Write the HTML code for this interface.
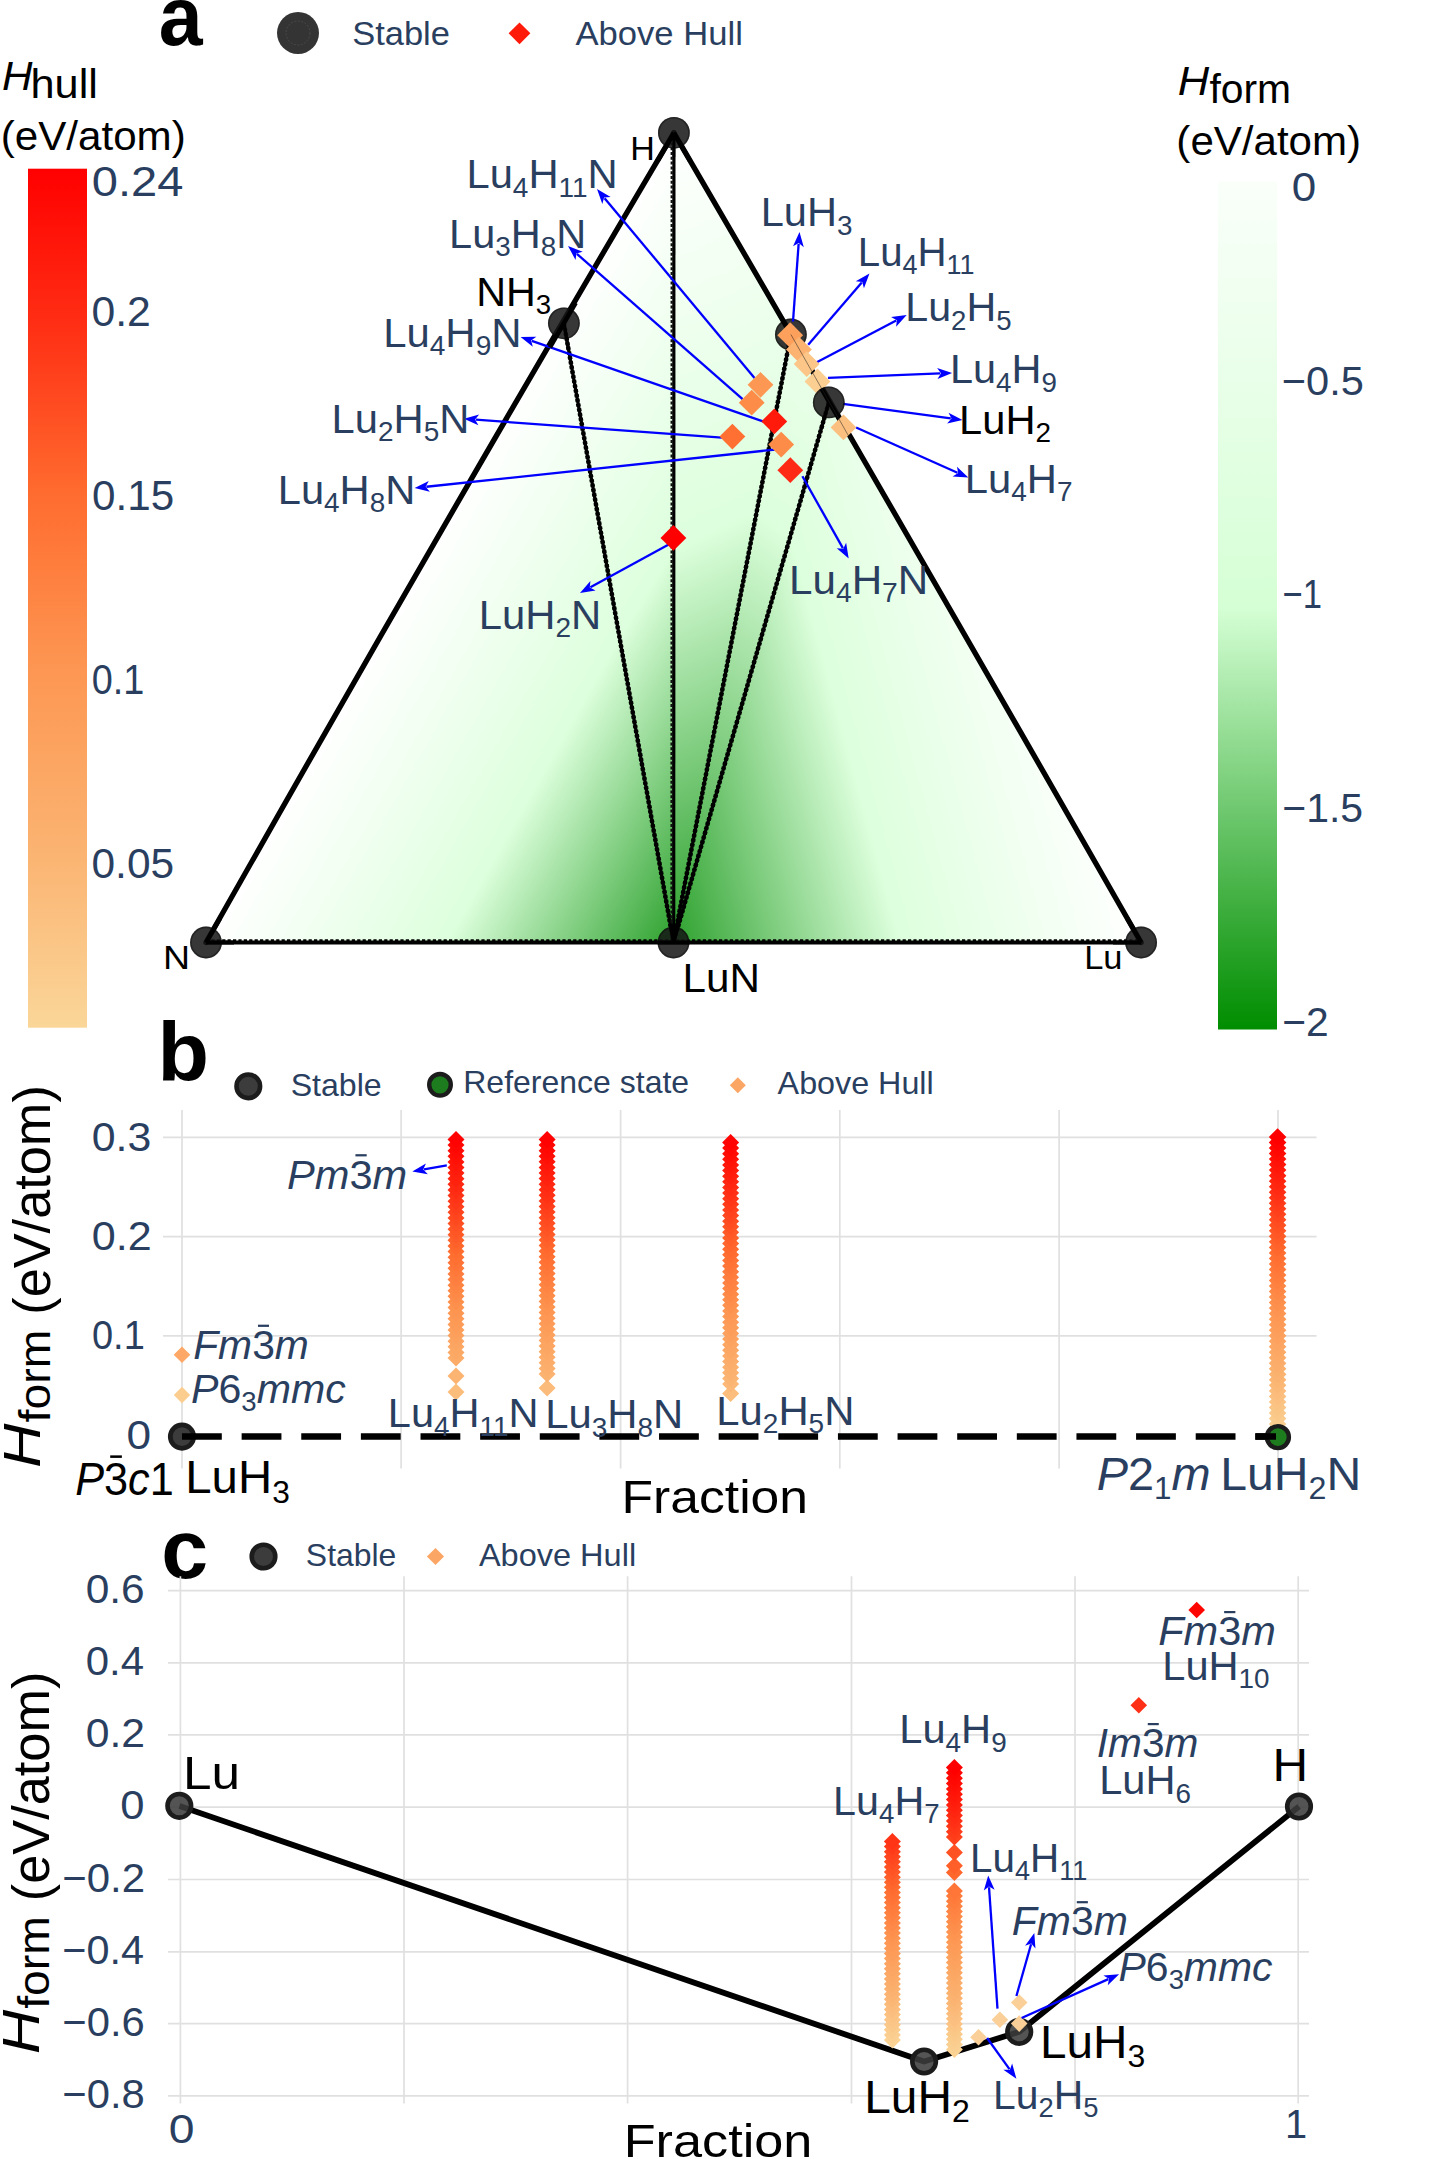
<!DOCTYPE html>
<html><head><meta charset="utf-8"><title>Figure</title>
<style>
html,body{margin:0;padding:0;background:#fff;overflow:hidden;}
svg{display:block;font-family:"Liberation Sans",sans-serif;}
</style></head><body>
<svg width="1451" height="2159" viewBox="0 0 1451 2159">
<defs>
<linearGradient id="gHull" x1="0" y1="0" x2="0" y2="1"><stop offset="0" stop-color="rgb(255,0,0)"/><stop offset="0.18" stop-color="rgb(255,46,20)"/><stop offset="0.38" stop-color="rgb(255,108,47)"/><stop offset="0.58" stop-color="rgb(253,150,82)"/><stop offset="0.8" stop-color="rgb(251,180,114)"/><stop offset="1" stop-color="rgb(250,214,153)"/></linearGradient>
<linearGradient id="gForm" x1="0" y1="0" x2="0" y2="1"><stop offset="0" stop-color="rgb(250,255,250)"/><stop offset="0.502" stop-color="rgb(213,255,213)"/><stop offset="1" stop-color="rgb(0,141,0)"/></linearGradient>
<linearGradient id="gf0" gradientUnits="userSpaceOnUse" x1="206" y1="942.5" x2="559.87" y2="1143.03"><stop offset="0" stop-color="rgb(255,255,255)"/><stop offset="0.515" stop-color="rgb(213,255,213)"/><stop offset="1" stop-color="rgb(0,141,0)"/></linearGradient>
<linearGradient id="gf1" gradientUnits="userSpaceOnUse" x1="558.48" y1="319.96" x2="919.95" y2="542.88"><stop offset="0" stop-color="rgb(255,255,255)"/><stop offset="0.515" stop-color="rgb(213,255,213)"/><stop offset="1" stop-color="rgb(0,141,0)"/></linearGradient>
<linearGradient id="gf2" gradientUnits="userSpaceOnUse" x1="673.9" y1="132.8" x2="979.29" y2="803.2"><stop offset="0" stop-color="rgb(255,255,255)"/><stop offset="0.515" stop-color="rgb(213,255,213)"/><stop offset="1" stop-color="rgb(0,141,0)"/></linearGradient>
<linearGradient id="gf3" gradientUnits="userSpaceOnUse" x1="942.26" y1="125.39" x2="461.75" y2="789.22"><stop offset="0" stop-color="rgb(255,255,255)"/><stop offset="0.515" stop-color="rgb(213,255,213)"/><stop offset="1" stop-color="rgb(0,141,0)"/></linearGradient>
<linearGradient id="gf4" gradientUnits="userSpaceOnUse" x1="983.45" y1="360.51" x2="547.82" y2="478.51"><stop offset="0" stop-color="rgb(255,255,255)"/><stop offset="0.515" stop-color="rgb(213,255,213)"/><stop offset="1" stop-color="rgb(0,141,0)"/></linearGradient>
</defs>
<rect width="1451" height="2159" fill="#ffffff"/>
<!-- panel a -->
<g transform="translate(158.63,44.5) scale(0.9390,1)" fill="#000"><text font-size="84"><tspan x="0" y="0" font-weight="bold">a</tspan></text></g>
<circle cx="298" cy="33" r="21" fill="#343434"/>
<circle cx="298" cy="33" r="12" fill="none" stroke="#555" stroke-width="0.6" stroke-dasharray="2 1.5"/>
<g transform="translate(352.15,44.6) scale(1.0617,1)" fill="#2a3f5f"><text font-size="32.5"><tspan x="0" y="0">Stable</tspan></text></g>
<path d="M519.5 22.4L530.4 33.3L519.5 44.2L508.6 33.3Z" fill="#ff1a0a" />
<g transform="translate(575.51,44.6) scale(1.0649,1)" fill="#2a3f5f"><text font-size="32.5"><tspan x="0" y="0">Above Hull</tspan></text></g>
<g transform="translate(2.04,89.6) scale(1.0160,1)" fill="#000"><text font-size="41.5"><tspan x="0" y="0" font-style="italic">H</tspan></text></g>
<g transform="translate(30.47,97.9) scale(1.0436,1)" fill="#000"><text font-size="41.5"><tspan x="0" y="0">hull</tspan></text></g>
<g transform="translate(0.66,150.2) scale(1.0164,1)" fill="#000"><text font-size="41.5"><tspan x="0" y="0">(eV/atom)</tspan></text></g>
<rect x="28" y="168.7" width="59" height="859" fill="url(#gHull)"/>
<g transform="translate(91.82,195.8) scale(1.0950,1)" fill="#2a3f5f"><text font-size="43"><tspan x="0" y="0">0.24</tspan></text></g>
<g transform="translate(91.49,326) scale(1.0093,1)" fill="#2a3f5f"><text font-size="42.3"><tspan x="0" y="0">0.2</tspan></text></g>
<g transform="translate(92.01,510) scale(0.9976,1)" fill="#2a3f5f"><text font-size="42.3"><tspan x="0" y="0">0.15</tspan></text></g>
<g transform="translate(91.69,693.8) scale(0.8948,1)" fill="#2a3f5f"><text font-size="42.3"><tspan x="0" y="0">0.1</tspan></text></g>
<g transform="translate(91.5,877.5) scale(1.0039,1)" fill="#2a3f5f"><text font-size="42.3"><tspan x="0" y="0">0.05</tspan></text></g>
<g transform="translate(1177.7,95.2) scale(1.0474,1)" fill="#000"><text font-size="41.5"><tspan x="0" y="0" font-style="italic">H</tspan></text></g>
<g transform="translate(1209.39,103.2) scale(0.9839,1)" fill="#000"><text font-size="41.5"><tspan x="0" y="0">form</tspan></text></g>
<g transform="translate(1176.37,155.3) scale(1.0141,1)" fill="#000"><text font-size="41.5"><tspan x="0" y="0">(eV/atom)</tspan></text></g>
<rect x="1218" y="181.4" width="59" height="848.1" fill="url(#gForm)"/>
<g transform="translate(1291.64,201) scale(1.0859,1)" fill="#2a3f5f"><text font-size="40.5"><tspan x="0" y="0">0</tspan></text></g>
<g transform="translate(1281.82,394.5) scale(1.0023,1)" fill="#2a3f5f"><text font-size="41.5"><tspan x="0" y="0">−0.5</tspan></text></g>
<g transform="translate(1282.57,608.4) scale(0.8344,1)" fill="#2a3f5f"><text font-size="41.5"><tspan x="0" y="0">−1</tspan></text></g>
<g transform="translate(1282.25,822.4) scale(0.9869,1)" fill="#2a3f5f"><text font-size="41.5"><tspan x="0" y="0">−1.5</tspan></text></g>
<g transform="translate(1282.26,1036.4) scale(0.9824,1)" fill="#2a3f5f"><text font-size="41.5"><tspan x="0" y="0">−2</tspan></text></g>
<path d="M206 942.5L563.9 323.3L673.5 942.5Z" fill="url(#gf0)" fill-opacity="0.82"/>
<path d="M563.9 323.3L673.9 132.8L673.5 942.5Z" fill="url(#gf1)" fill-opacity="0.82"/>
<path d="M673.9 132.8L790.9 334.5L673.5 942.5Z" fill="url(#gf2)" fill-opacity="0.82"/>
<path d="M790.9 334.5L828.8 402.4L673.5 942.5Z" fill="url(#gf3)" fill-opacity="0.82"/>
<path d="M828.8 402.4L1141.1 942.5L673.5 942.5Z" fill="url(#gf4)" fill-opacity="0.82"/>
<circle cx="790.9" cy="334.5" r="15.9" fill="#161616" fill-opacity="0.86"/>
<circle cx="790.9" cy="334.5" r="15.1" fill="none" stroke="#000" stroke-opacity="0.35" stroke-width="1.6"/>
<path d="M206 942.5Q436.1 535.4 673.9 132.8" stroke="#000" stroke-width="5.3" fill="none" stroke-linecap="round"/>
<path d="M673.9 132.8Q909.2 536.6 1141.1 942.5" stroke="#000" stroke-width="5.3" fill="none" stroke-linecap="round"/>
<path d="M206 942.5L1141.1 942.5" stroke="#000" stroke-width="4.2" stroke-linecap="round"/>
<path d="M206 940.1L1141.1 940.1" stroke="#000" stroke-width="1.6" stroke-dasharray="3.2 2.2"/>
<path d="M563.9 323.3L673.5 942.5" stroke="#000" stroke-width="3.3"/>
<path d="M563.9 323.3L673.5 942.5" stroke="#000" stroke-width="4.5" stroke-dasharray="3 1.8"/>
<path d="M790.9 334.5L673.5 942.5" stroke="#000" stroke-width="3.3"/>
<path d="M790.9 334.5L673.5 942.5" stroke="#000" stroke-width="4.5" stroke-dasharray="3 1.8"/>
<path d="M828.8 402.4L673.5 942.5" stroke="#000" stroke-width="3.3"/>
<path d="M828.8 402.4L673.5 942.5" stroke="#000" stroke-width="4.5" stroke-dasharray="3 1.8"/>
<path d="M673.9 132.8L673.7 942.5" stroke="#000" stroke-width="3.2"/>
<path d="M671.7 132.8L671.5 942.5" stroke="#111" stroke-width="2.2" stroke-dasharray="3 1.8"/>
<path d="M793 321.5L798.64 243.81" stroke="#0000ff" stroke-width="2.3" fill="none"/>
<path d="M799.5 232L803.81 247.15L798.7 243.07L793.04 246.37Z" fill="#0000ff"/>
<path d="M808.2 344.8L861.77 282.57" stroke="#0000ff" stroke-width="2.3" fill="none"/>
<path d="M869.5 273.6L863.94 288.34L862.26 282.01L855.75 281.29Z" fill="#0000ff"/>
<path d="M814.4 363.4L896.21 320.5" stroke="#0000ff" stroke-width="2.3" fill="none"/>
<path d="M906.7 315L896.1 326.66L896.87 320.15L891.08 317.09Z" fill="#0000ff"/>
<path d="M828 377.8L940.27 373.37" stroke="#0000ff" stroke-width="2.3" fill="none"/>
<path d="M952.1 372.9L937.52 378.88L941.01 373.34L937.1 368.09Z" fill="#0000ff"/>
<path d="M843 403.9L950.77 418.42" stroke="#0000ff" stroke-width="2.3" fill="none"/>
<path d="M962.5 420L947.11 423.38L951.5 418.52L948.55 412.67Z" fill="#0000ff"/>
<path d="M856.1 427.5L957.49 472.77" stroke="#0000ff" stroke-width="2.3" fill="none"/>
<path d="M968.3 477.6L952.58 476.5L958.16 473.07L956.99 466.63Z" fill="#0000ff"/>
<path d="M754.5 377.9L604.58 198.19" stroke="#0000ff" stroke-width="2.3" fill="none"/>
<path d="M597 189.1L610.63 197.01L604.11 197.62L602.33 203.92Z" fill="#0000ff"/>
<path d="M742.6 399.1L576.9 253.9" stroke="#0000ff" stroke-width="2.3" fill="none"/>
<path d="M568 246.1L582.69 251.79L576.35 253.42L575.57 259.92Z" fill="#0000ff"/>
<path d="M764.7 422L531.78 340.8" stroke="#0000ff" stroke-width="2.3" fill="none"/>
<path d="M520.6 336.9L536.35 336.67L531.08 340.55L532.8 346.87Z" fill="#0000ff"/>
<path d="M721.9 437.7L475.81 419.67" stroke="#0000ff" stroke-width="2.3" fill="none"/>
<path d="M464 418.8L479.16 414.5L475.07 419.61L478.37 425.27Z" fill="#0000ff"/>
<path d="M775.7 449.5L426.37 486.74" stroke="#0000ff" stroke-width="2.3" fill="none"/>
<path d="M414.6 488L428.74 481.06L425.64 486.82L429.89 491.8Z" fill="#0000ff"/>
<path d="M669.6 544.1L590.4 587.24" stroke="#0000ff" stroke-width="2.3" fill="none"/>
<path d="M580 592.9L590.41 581.08L589.75 587.59L595.58 590.56Z" fill="#0000ff"/>
<path d="M802.4 476.3L842.88 548.09" stroke="#0000ff" stroke-width="2.3" fill="none"/>
<path d="M848.7 558.4L836.73 548.16L843.25 548.73L846.13 542.86Z" fill="#0000ff"/>
<path d="M790.2 322.3L803.1 335.2L790.2 348.1L777.3 335.2Z" fill="rgb(252,160,92)" />
<path d="M798.9 336.7L811.8 349.6L798.9 362.5L786 349.6Z" fill="rgb(252,178,112)" />
<path d="M806.7 351.2L819.6 364.1L806.7 377L793.8 364.1Z" fill="rgb(251,198,135)" />
<path d="M817.5 368.6L830.4 381.5L817.5 394.4L804.6 381.5Z" fill="rgb(251,206,146)" />
<circle cx="206" cy="942.5" r="15.9" fill="#161616" fill-opacity="0.86"/>
<circle cx="206" cy="942.5" r="15.1" fill="none" stroke="#000" stroke-opacity="0.35" stroke-width="1.6"/>
<circle cx="1141.1" cy="942.5" r="15.9" fill="#161616" fill-opacity="0.86"/>
<circle cx="1141.1" cy="942.5" r="15.1" fill="none" stroke="#000" stroke-opacity="0.35" stroke-width="1.6"/>
<circle cx="673.9" cy="132.8" r="15.9" fill="#161616" fill-opacity="0.86"/>
<circle cx="673.9" cy="132.8" r="15.1" fill="none" stroke="#000" stroke-opacity="0.35" stroke-width="1.6"/>
<circle cx="673.5" cy="942.5" r="15.9" fill="#161616" fill-opacity="0.86"/>
<circle cx="673.5" cy="942.5" r="15.1" fill="none" stroke="#000" stroke-opacity="0.35" stroke-width="1.6"/>
<circle cx="563.9" cy="323.3" r="15.9" fill="#161616" fill-opacity="0.86"/>
<circle cx="563.9" cy="323.3" r="15.1" fill="none" stroke="#000" stroke-opacity="0.35" stroke-width="1.6"/>
<circle cx="828.8" cy="402.4" r="15.9" fill="#161616" fill-opacity="0.86"/>
<circle cx="828.8" cy="402.4" r="15.1" fill="none" stroke="#000" stroke-opacity="0.35" stroke-width="1.6"/>
<path d="M821.54 388.67L842.09 424.29" stroke="#000" stroke-width="4.6"/>
<path d="M828.8 402.4L821.03 429.4" stroke="#000" stroke-width="3.3"/>
<path d="M549.91 347.37L575.64 302.84" stroke="#000" stroke-width="4.6"/>
<path d="M563.9 323.3L568.28 348.07" stroke="#000" stroke-width="3.3"/>
<path d="M673.9 132.8L657.52 161.14" stroke="#000" stroke-width="4.6"/>
<path d="M673.9 132.8L690.25 161.14" stroke="#000" stroke-width="4.6"/>
<path d="M673.9 132.8L673.89 157.09" stroke="#000" stroke-width="2.7"/>
<path d="M206 942.5L220.04 918.21" stroke="#000" stroke-width="4.6"/>
<path d="M206 942.5L234.05 942.5" stroke="#000" stroke-width="4.0"/>
<path d="M1141.1 942.5L1127.08 918.21" stroke="#000" stroke-width="4.6"/>
<path d="M1141.1 942.5L1113.05 942.5" stroke="#000" stroke-width="4.0"/>
<path d="M673.5 942.5L670.21 923.92" stroke="#000" stroke-width="3.3"/>
<path d="M673.5 942.5L677.02 924.26" stroke="#000" stroke-width="3.3"/>
<path d="M673.5 942.5L678.16 926.3" stroke="#000" stroke-width="3.3"/>
<path d="M673.5 942.5L673.51 924.69" stroke="#000" stroke-width="2.7"/>
<path d="M657.65 942.5L689.45 942.5" stroke="#000" stroke-width="4.2"/>
<path d="M843.5 414.5L856.4 427.4L843.5 440.3L830.6 427.4Z" fill="rgb(251,192,128)" />
<path d="M790.9 334.5L852 442" stroke="#222" stroke-width="0.7" stroke-opacity="0.75"/>
<path d="M760.5 371.9L773.4 384.8L760.5 397.7L747.6 384.8Z" fill="rgb(252,152,84)" />
<path d="M751.7 389.8L764.6 402.7L751.7 415.6L738.8 402.7Z" fill="rgb(252,140,72)" />
<path d="M774.3 408.5L787.2 421.4L774.3 434.3L761.4 421.4Z" fill="rgb(255,26,12)" />
<path d="M732.4 423.7L745.3 436.6L732.4 449.5L719.5 436.6Z" fill="rgb(255,112,50)" />
<path d="M781.2 431.7L794.1 444.6L781.2 457.5L768.3 444.6Z" fill="rgb(252,140,72)" />
<path d="M790.3 457.3L803.2 470.2L790.3 483.1L777.4 470.2Z" fill="rgb(255,42,22)" />
<path d="M673.4 525L686.3 537.9L673.4 550.8L660.5 537.9Z" fill="rgb(255,0,0)" />
<g transform="translate(466.46,188.4) scale(1.0056,1)" fill="#2a3f5f"><text font-size="41.5"><tspan x="0" y="0">Lu</tspan><tspan x="46.16" y="8.3" font-size="27.81">4</tspan><tspan x="61.62" y="0">H</tspan><tspan x="91.6" y="8.3" font-size="27.81">11</tspan><tspan x="120.46" y="0">N</tspan></text></g>
<g transform="translate(449.07,247.6) scale(1.0008,1)" fill="#2a3f5f"><text font-size="41.5"><tspan x="0" y="0">Lu</tspan><tspan x="46.16" y="8.3" font-size="27.81">3</tspan><tspan x="61.62" y="0">H</tspan><tspan x="91.6" y="8.3" font-size="27.81">8</tspan><tspan x="107.06" y="0">N</tspan></text></g>
<g transform="translate(476.19,305.5) scale(1.0321,1)" fill="#000"><text font-size="40"><tspan x="0" y="0">NH</tspan><tspan x="57.77" y="8" font-size="26.8">3</tspan></text></g>
<g transform="translate(383.14,346.9) scale(1.0100,1)" fill="#2a3f5f"><text font-size="41.5"><tspan x="0" y="0">Lu</tspan><tspan x="46.16" y="8.3" font-size="27.81">4</tspan><tspan x="61.62" y="0">H</tspan><tspan x="91.6" y="8.3" font-size="27.81">9</tspan><tspan x="107.06" y="0">N</tspan></text></g>
<g transform="translate(331.56,433) scale(1.0062,1)" fill="#2a3f5f"><text font-size="41.5"><tspan x="0" y="0">Lu</tspan><tspan x="46.16" y="8.3" font-size="27.81">2</tspan><tspan x="61.62" y="0">H</tspan><tspan x="91.6" y="8.3" font-size="27.81">5</tspan><tspan x="107.06" y="0">N</tspan></text></g>
<g transform="translate(277.76,503.7) scale(1.0039,1)" fill="#2a3f5f"><text font-size="41.5"><tspan x="0" y="0">Lu</tspan><tspan x="46.16" y="8.3" font-size="27.81">4</tspan><tspan x="61.62" y="0">H</tspan><tspan x="91.6" y="8.3" font-size="27.81">8</tspan><tspan x="107.06" y="0">N</tspan></text></g>
<g transform="translate(478.75,629) scale(1.0076,1)" fill="#2a3f5f"><text font-size="41.5"><tspan x="0" y="0">LuH</tspan><tspan x="76.13" y="8.3" font-size="27.81">2</tspan><tspan x="91.6" y="0">N</tspan></text></g>
<g transform="translate(789.02,594) scale(1.0162,1)" fill="#2a3f5f"><text font-size="41.5"><tspan x="0" y="0">Lu</tspan><tspan x="46.16" y="8.3" font-size="27.81">4</tspan><tspan x="61.62" y="0">H</tspan><tspan x="91.6" y="8.3" font-size="27.81">7</tspan><tspan x="107.06" y="0">N</tspan></text></g>
<g transform="translate(760.67,226.3) scale(1.0016,1)" fill="#2a3f5f"><text font-size="41.5"><tspan x="0" y="0">LuH</tspan><tspan x="76.13" y="8.3" font-size="27.81">3</tspan></text></g>
<g transform="translate(857.78,265.5) scale(0.9698,1)" fill="#2a3f5f"><text font-size="41.5"><tspan x="0" y="0">Lu</tspan><tspan x="46.16" y="8.3" font-size="27.81">4</tspan><tspan x="61.62" y="0">H</tspan><tspan x="91.6" y="8.3" font-size="27.81">11</tspan></text></g>
<g transform="translate(905.3,321.3) scale(0.9923,1)" fill="#2a3f5f"><text font-size="41.5"><tspan x="0" y="0">Lu</tspan><tspan x="46.16" y="8.3" font-size="27.81">2</tspan><tspan x="61.62" y="0">H</tspan><tspan x="91.6" y="8.3" font-size="27.81">5</tspan></text></g>
<g transform="translate(949.98,383.3) scale(0.9985,1)" fill="#2a3f5f"><text font-size="41.5"><tspan x="0" y="0">Lu</tspan><tspan x="46.16" y="8.3" font-size="27.81">4</tspan><tspan x="61.62" y="0">H</tspan><tspan x="91.6" y="8.3" font-size="27.81">9</tspan></text></g>
<g transform="translate(959.06,433.7) scale(1.0040,1)" fill="#000"><text font-size="41.5"><tspan x="0" y="0">LuH</tspan><tspan x="76.13" y="8.3" font-size="27.81">2</tspan></text></g>
<g transform="translate(964.85,492.5) scale(1.0067,1)" fill="#2a3f5f"><text font-size="41.5"><tspan x="0" y="0">Lu</tspan><tspan x="46.16" y="8.3" font-size="27.81">4</tspan><tspan x="61.62" y="0">H</tspan><tspan x="91.6" y="8.3" font-size="27.81">7</tspan></text></g>
<g transform="translate(630.19,159.8) scale(1.0173,1)" fill="#000"><text font-size="33.5"><tspan x="0" y="0">H</tspan></text></g>
<g transform="translate(162.91,969.2) scale(1.1026,1)" fill="#000"><text font-size="34"><tspan x="0" y="0">N</tspan></text></g>
<g transform="translate(1084.15,968.7) scale(1.0613,1)" fill="#000"><text font-size="32.5"><tspan x="0" y="0">Lu</tspan></text></g>
<g transform="translate(682.52,992.4) scale(1.0554,1)" fill="#000"><text font-size="40"><tspan x="0" y="0">LuN</tspan></text></g>
<!-- panel b -->
<g transform="translate(157.52,1080.7) scale(1.0042,1)" fill="#000"><text font-size="84"><tspan x="0" y="0" font-weight="bold">b</tspan></text></g>
<circle cx="248.3" cy="1086.3" r="11.8" fill="#3c3c3c" stroke="#1c1c1c" stroke-width="4.6"/>
<g transform="translate(290.65,1095.7) scale(1.0537,1)" fill="#2a3f5f"><text font-size="30.5"><tspan x="0" y="0">Stable</tspan></text></g>
<circle cx="440" cy="1084.8" r="10.8" fill="#1d7c1d" stroke="#1c1c1c" stroke-width="4.4"/>
<g transform="translate(463.26,1093.2) scale(1.0495,1)" fill="#2a3f5f"><text font-size="30.5"><tspan x="0" y="0">Reference state</tspan></text></g>
<path d="M737.8 1077.2L745.8 1085.2L737.8 1093.2L729.8 1085.2Z" fill="rgb(252,166,102)" />
<g transform="translate(777.62,1094) scale(1.0584,1)" fill="#2a3f5f"><text font-size="30.5"><tspan x="0" y="0">Above Hull</tspan></text></g>
<path d="M182 1110V1468.5" stroke="#e0e0e0" stroke-width="1.7"/>
<path d="M401.1 1110V1468.5" stroke="#e0e0e0" stroke-width="1.7"/>
<path d="M620.6 1110V1468.5" stroke="#e0e0e0" stroke-width="1.7"/>
<path d="M839.8 1110V1468.5" stroke="#e0e0e0" stroke-width="1.7"/>
<path d="M1059.1 1110V1468.5" stroke="#e0e0e0" stroke-width="1.7"/>
<path d="M1278 1110V1468.5" stroke="#e0e0e0" stroke-width="1.7"/>
<path d="M163 1137.3H1316.5" stroke="#e0e0e0" stroke-width="1.7"/>
<path d="M163 1236.7H1316.5" stroke="#e0e0e0" stroke-width="1.7"/>
<path d="M163 1335.8H1316.5" stroke="#e0e0e0" stroke-width="1.7"/>
<g transform="translate(91.79,1150.7) scale(1.0575,1)" fill="#2a3f5f"><text font-size="40.5"><tspan x="0" y="0">0.3</tspan></text></g>
<g transform="translate(91.78,1250.1) scale(1.0636,1)" fill="#2a3f5f"><text font-size="40.5"><tspan x="0" y="0">0.2</tspan></text></g>
<g transform="translate(91.98,1349.2) scale(0.9384,1)" fill="#2a3f5f"><text font-size="40.5"><tspan x="0" y="0">0.1</tspan></text></g>
<g transform="translate(126.43,1448.6) scale(1.0911,1)" fill="#2a3f5f"><text font-size="40.5"><tspan x="0" y="0">0</tspan></text></g>
<g transform="translate(50,1466.1) rotate(-90)">
<g transform="translate(-1.85,-10.3) scale(1.1830,1)" fill="#000"><text font-size="52"><tspan x="0" y="0" font-style="italic">H</tspan></text></g>
<g transform="translate(43.71,0.3) scale(1.0523,1)" fill="#000"><text font-size="44"><tspan x="0" y="0">form</tspan></text></g>
<g transform="translate(151.33,0) scale(1.0058,1)" fill="#000"><text font-size="52"><tspan x="0" y="0">(eV/atom)</tspan></text></g>
</g>
<path d="M456 1383.5L464.5 1392L456 1400.5L447.5 1392Z" fill="rgb(251,189,124)" />
<path d="M456 1367.5L464.5 1376L456 1384.5L447.5 1376Z" fill="rgb(251,180,114)" />
<path d="M456 1349.5L464.5 1358L456 1366.5L447.5 1358Z" fill="rgb(252,172,105)" />
<path d="M456 1343.9L464.5 1352.4L456 1360.9L447.5 1352.4Z" fill="rgb(252,169,102)" />
<path d="M456 1338.29L464.5 1346.79L456 1355.29L447.5 1346.79Z" fill="rgb(252,167,100)" />
<path d="M456 1332.69L464.5 1341.19L456 1349.69L447.5 1341.19Z" fill="rgb(252,164,97)" />
<path d="M456 1327.09L464.5 1335.59L456 1344.09L447.5 1335.59Z" fill="rgb(252,161,94)" />
<path d="M456 1321.49L464.5 1329.99L456 1338.49L447.5 1329.99Z" fill="rgb(252,159,91)" />
<path d="M456 1315.88L464.5 1324.38L456 1332.88L447.5 1324.38Z" fill="rgb(253,156,89)" />
<path d="M456 1310.28L464.5 1318.78L456 1327.28L447.5 1318.78Z" fill="rgb(253,154,86)" />
<path d="M456 1304.68L464.5 1313.18L456 1321.68L447.5 1313.18Z" fill="rgb(253,151,83)" />
<path d="M456 1299.08L464.5 1307.58L456 1316.08L447.5 1307.58Z" fill="rgb(253,148,80)" />
<path d="M456 1293.47L464.5 1301.97L456 1310.47L447.5 1301.97Z" fill="rgb(253,144,77)" />
<path d="M456 1287.87L464.5 1296.37L456 1304.87L447.5 1296.37Z" fill="rgb(253,140,74)" />
<path d="M456 1282.27L464.5 1290.77L456 1299.27L447.5 1290.77Z" fill="rgb(254,136,70)" />
<path d="M456 1276.67L464.5 1285.17L456 1293.67L447.5 1285.17Z" fill="rgb(254,132,67)" />
<path d="M456 1271.06L464.5 1279.56L456 1288.06L447.5 1279.56Z" fill="rgb(254,128,64)" />
<path d="M456 1265.46L464.5 1273.96L456 1282.46L447.5 1273.96Z" fill="rgb(254,124,61)" />
<path d="M456 1259.86L464.5 1268.36L456 1276.86L447.5 1268.36Z" fill="rgb(254,120,57)" />
<path d="M456 1254.26L464.5 1262.76L456 1271.26L447.5 1262.76Z" fill="rgb(255,116,54)" />
<path d="M456 1248.65L464.5 1257.15L456 1265.65L447.5 1257.15Z" fill="rgb(255,112,51)" />
<path d="M456 1243.05L464.5 1251.55L456 1260.05L447.5 1251.55Z" fill="rgb(255,109,47)" />
<path d="M456 1237.45L464.5 1245.95L456 1254.45L447.5 1245.95Z" fill="rgb(255,103,45)" />
<path d="M456 1231.85L464.5 1240.35L456 1248.85L447.5 1240.35Z" fill="rgb(255,97,42)" />
<path d="M456 1226.24L464.5 1234.74L456 1243.24L447.5 1234.74Z" fill="rgb(255,91,40)" />
<path d="M456 1220.64L464.5 1229.14L456 1237.64L447.5 1229.14Z" fill="rgb(255,86,37)" />
<path d="M456 1215.04L464.5 1223.54L456 1232.04L447.5 1223.54Z" fill="rgb(255,80,35)" />
<path d="M456 1209.44L464.5 1217.94L456 1226.44L447.5 1217.94Z" fill="rgb(255,74,32)" />
<path d="M456 1203.83L464.5 1212.33L456 1220.83L447.5 1212.33Z" fill="rgb(255,68,30)" />
<path d="M456 1198.23L464.5 1206.73L456 1215.23L447.5 1206.73Z" fill="rgb(255,62,27)" />
<path d="M456 1192.63L464.5 1201.13L456 1209.63L447.5 1201.13Z" fill="rgb(255,56,25)" />
<path d="M456 1187.03L464.5 1195.53L456 1204.03L447.5 1195.53Z" fill="rgb(255,51,22)" />
<path d="M456 1181.42L464.5 1189.92L456 1198.42L447.5 1189.92Z" fill="rgb(255,45,20)" />
<path d="M456 1175.82L464.5 1184.32L456 1192.82L447.5 1184.32Z" fill="rgb(255,40,17)" />
<path d="M456 1170.22L464.5 1178.72L456 1187.22L447.5 1178.72Z" fill="rgb(255,35,15)" />
<path d="M456 1164.62L464.5 1173.12L456 1181.62L447.5 1173.12Z" fill="rgb(255,31,13)" />
<path d="M456 1159.01L464.5 1167.51L456 1176.01L447.5 1167.51Z" fill="rgb(255,26,11)" />
<path d="M456 1153.41L464.5 1161.91L456 1170.41L447.5 1161.91Z" fill="rgb(255,21,9)" />
<path d="M456 1147.81L464.5 1156.31L456 1164.81L447.5 1156.31Z" fill="rgb(255,16,7)" />
<path d="M456 1142.21L464.5 1150.71L456 1159.21L447.5 1150.71Z" fill="rgb(255,11,5)" />
<path d="M456 1136.6L464.5 1145.1L456 1153.6L447.5 1145.1Z" fill="rgb(255,7,3)" />
<path d="M456 1131L464.5 1139.5L456 1148L447.5 1139.5Z" fill="rgb(255,2,1)" />
<path d="M547.1 1379.5L555.6 1388L547.1 1396.5L538.6 1388Z" fill="rgb(251,187,122)" />
<path d="M547.1 1365.5L555.6 1374L547.1 1382.5L538.6 1374Z" fill="rgb(251,179,113)" />
<path d="M547.1 1359.92L555.6 1368.42L547.1 1376.92L538.6 1368.42Z" fill="rgb(251,176,110)" />
<path d="M547.1 1354.33L555.6 1362.83L547.1 1371.33L538.6 1362.83Z" fill="rgb(251,174,107)" />
<path d="M547.1 1348.75L555.6 1357.25L547.1 1365.75L538.6 1357.25Z" fill="rgb(252,171,105)" />
<path d="M547.1 1343.17L555.6 1351.67L547.1 1360.17L538.6 1351.67Z" fill="rgb(252,169,102)" />
<path d="M547.1 1337.58L555.6 1346.08L547.1 1354.58L538.6 1346.08Z" fill="rgb(252,166,99)" />
<path d="M547.1 1332L555.6 1340.5L547.1 1349L538.6 1340.5Z" fill="rgb(252,164,97)" />
<path d="M547.1 1326.42L555.6 1334.92L547.1 1343.42L538.6 1334.92Z" fill="rgb(252,161,94)" />
<path d="M547.1 1320.83L555.6 1329.33L547.1 1337.83L538.6 1329.33Z" fill="rgb(252,159,91)" />
<path d="M547.1 1315.25L555.6 1323.75L547.1 1332.25L538.6 1323.75Z" fill="rgb(253,156,88)" />
<path d="M547.1 1309.67L555.6 1318.17L547.1 1326.67L538.6 1318.17Z" fill="rgb(253,153,86)" />
<path d="M547.1 1304.08L555.6 1312.58L547.1 1321.08L538.6 1312.58Z" fill="rgb(253,151,83)" />
<path d="M547.1 1298.5L555.6 1307L547.1 1315.5L538.6 1307Z" fill="rgb(253,148,80)" />
<path d="M547.1 1292.92L555.6 1301.42L547.1 1309.92L538.6 1301.42Z" fill="rgb(253,144,77)" />
<path d="M547.1 1287.33L555.6 1295.83L547.1 1304.33L538.6 1295.83Z" fill="rgb(253,140,73)" />
<path d="M547.1 1281.75L555.6 1290.25L547.1 1298.75L538.6 1290.25Z" fill="rgb(254,136,70)" />
<path d="M547.1 1276.17L555.6 1284.67L547.1 1293.17L538.6 1284.67Z" fill="rgb(254,132,67)" />
<path d="M547.1 1270.58L555.6 1279.08L547.1 1287.58L538.6 1279.08Z" fill="rgb(254,128,64)" />
<path d="M547.1 1265L555.6 1273.5L547.1 1282L538.6 1273.5Z" fill="rgb(254,124,60)" />
<path d="M547.1 1259.42L555.6 1267.92L547.1 1276.42L538.6 1267.92Z" fill="rgb(254,120,57)" />
<path d="M547.1 1253.83L555.6 1262.33L547.1 1270.83L538.6 1262.33Z" fill="rgb(255,116,54)" />
<path d="M547.1 1248.25L555.6 1256.75L547.1 1265.25L538.6 1256.75Z" fill="rgb(255,112,50)" />
<path d="M547.1 1242.67L555.6 1251.17L547.1 1259.67L538.6 1251.17Z" fill="rgb(255,108,47)" />
<path d="M547.1 1237.08L555.6 1245.58L547.1 1254.08L538.6 1245.58Z" fill="rgb(255,103,45)" />
<path d="M547.1 1231.5L555.6 1240L547.1 1248.5L538.6 1240Z" fill="rgb(255,97,42)" />
<path d="M547.1 1225.92L555.6 1234.42L547.1 1242.92L538.6 1234.42Z" fill="rgb(255,91,40)" />
<path d="M547.1 1220.33L555.6 1228.83L547.1 1237.33L538.6 1228.83Z" fill="rgb(255,85,37)" />
<path d="M547.1 1214.75L555.6 1223.25L547.1 1231.75L538.6 1223.25Z" fill="rgb(255,79,35)" />
<path d="M547.1 1209.17L555.6 1217.67L547.1 1226.17L538.6 1217.67Z" fill="rgb(255,74,32)" />
<path d="M547.1 1203.58L555.6 1212.08L547.1 1220.58L538.6 1212.08Z" fill="rgb(255,68,29)" />
<path d="M547.1 1198L555.6 1206.5L547.1 1215L538.6 1206.5Z" fill="rgb(255,62,27)" />
<path d="M547.1 1192.42L555.6 1200.92L547.1 1209.42L538.6 1200.92Z" fill="rgb(255,56,24)" />
<path d="M547.1 1186.83L555.6 1195.33L547.1 1203.83L538.6 1195.33Z" fill="rgb(255,50,22)" />
<path d="M547.1 1181.25L555.6 1189.75L547.1 1198.25L538.6 1189.75Z" fill="rgb(255,45,20)" />
<path d="M547.1 1175.67L555.6 1184.17L547.1 1192.67L538.6 1184.17Z" fill="rgb(255,40,17)" />
<path d="M547.1 1170.08L555.6 1178.58L547.1 1187.08L538.6 1178.58Z" fill="rgb(255,35,15)" />
<path d="M547.1 1164.5L555.6 1173L547.1 1181.5L538.6 1173Z" fill="rgb(255,31,13)" />
<path d="M547.1 1158.92L555.6 1167.42L547.1 1175.92L538.6 1167.42Z" fill="rgb(255,26,11)" />
<path d="M547.1 1153.33L555.6 1161.83L547.1 1170.33L538.6 1161.83Z" fill="rgb(255,21,9)" />
<path d="M547.1 1147.75L555.6 1156.25L547.1 1164.75L538.6 1156.25Z" fill="rgb(255,16,7)" />
<path d="M547.1 1142.17L555.6 1150.67L547.1 1159.17L538.6 1150.67Z" fill="rgb(255,11,5)" />
<path d="M547.1 1136.58L555.6 1145.08L547.1 1153.58L538.6 1145.08Z" fill="rgb(255,7,3)" />
<path d="M547.1 1131L555.6 1139.5L547.1 1148L538.6 1139.5Z" fill="rgb(255,2,1)" />
<path d="M730.6 1385L739.1 1393.5L730.6 1402L722.1 1393.5Z" fill="rgb(251,190,125)" />
<path d="M730.6 1375.5L739.1 1384L730.6 1392.5L722.1 1384Z" fill="rgb(251,184,119)" />
<path d="M730.6 1369.88L739.1 1378.38L730.6 1386.88L722.1 1378.38Z" fill="rgb(251,181,115)" />
<path d="M730.6 1364.27L739.1 1372.77L730.6 1381.27L722.1 1372.77Z" fill="rgb(251,178,112)" />
<path d="M730.6 1358.65L739.1 1367.15L730.6 1375.65L722.1 1367.15Z" fill="rgb(251,176,110)" />
<path d="M730.6 1353.03L739.1 1361.53L730.6 1370.03L722.1 1361.53Z" fill="rgb(251,173,107)" />
<path d="M730.6 1347.42L739.1 1355.92L730.6 1364.42L722.1 1355.92Z" fill="rgb(252,171,104)" />
<path d="M730.6 1341.8L739.1 1350.3L730.6 1358.8L722.1 1350.3Z" fill="rgb(252,168,101)" />
<path d="M730.6 1336.19L739.1 1344.69L730.6 1353.19L722.1 1344.69Z" fill="rgb(252,166,99)" />
<path d="M730.6 1330.57L739.1 1339.07L730.6 1347.57L722.1 1339.07Z" fill="rgb(252,163,96)" />
<path d="M730.6 1324.95L739.1 1333.45L730.6 1341.95L722.1 1333.45Z" fill="rgb(252,160,93)" />
<path d="M730.6 1319.34L739.1 1327.84L730.6 1336.34L722.1 1327.84Z" fill="rgb(252,158,90)" />
<path d="M730.6 1313.72L739.1 1322.22L730.6 1330.72L722.1 1322.22Z" fill="rgb(253,155,88)" />
<path d="M730.6 1308.1L739.1 1316.6L730.6 1325.1L722.1 1316.6Z" fill="rgb(253,153,85)" />
<path d="M730.6 1302.49L739.1 1310.99L730.6 1319.49L722.1 1310.99Z" fill="rgb(253,150,82)" />
<path d="M730.6 1296.87L739.1 1305.37L730.6 1313.87L722.1 1305.37Z" fill="rgb(253,146,79)" />
<path d="M730.6 1291.26L739.1 1299.76L730.6 1308.26L722.1 1299.76Z" fill="rgb(253,142,76)" />
<path d="M730.6 1285.64L739.1 1294.14L730.6 1302.64L722.1 1294.14Z" fill="rgb(254,138,72)" />
<path d="M730.6 1280.02L739.1 1288.52L730.6 1297.02L722.1 1288.52Z" fill="rgb(254,135,69)" />
<path d="M730.6 1274.41L739.1 1282.91L730.6 1291.41L722.1 1282.91Z" fill="rgb(254,131,66)" />
<path d="M730.6 1268.79L739.1 1277.29L730.6 1285.79L722.1 1277.29Z" fill="rgb(254,127,63)" />
<path d="M730.6 1263.17L739.1 1271.67L730.6 1280.17L722.1 1271.67Z" fill="rgb(254,123,59)" />
<path d="M730.6 1257.56L739.1 1266.06L730.6 1274.56L722.1 1266.06Z" fill="rgb(254,119,56)" />
<path d="M730.6 1251.94L739.1 1260.44L730.6 1268.94L722.1 1260.44Z" fill="rgb(255,115,53)" />
<path d="M730.6 1246.33L739.1 1254.83L730.6 1263.33L722.1 1254.83Z" fill="rgb(255,111,49)" />
<path d="M730.6 1240.71L739.1 1249.21L730.6 1257.71L722.1 1249.21Z" fill="rgb(255,106,46)" />
<path d="M730.6 1235.09L739.1 1243.59L730.6 1252.09L722.1 1243.59Z" fill="rgb(255,101,44)" />
<path d="M730.6 1229.48L739.1 1237.98L730.6 1246.48L722.1 1237.98Z" fill="rgb(255,95,41)" />
<path d="M730.6 1223.86L739.1 1232.36L730.6 1240.86L722.1 1232.36Z" fill="rgb(255,89,39)" />
<path d="M730.6 1218.24L739.1 1226.74L730.6 1235.24L722.1 1226.74Z" fill="rgb(255,83,36)" />
<path d="M730.6 1212.63L739.1 1221.13L730.6 1229.63L722.1 1221.13Z" fill="rgb(255,77,34)" />
<path d="M730.6 1207.01L739.1 1215.51L730.6 1224.01L722.1 1215.51Z" fill="rgb(255,71,31)" />
<path d="M730.6 1201.4L739.1 1209.9L730.6 1218.4L722.1 1209.9Z" fill="rgb(255,66,29)" />
<path d="M730.6 1195.78L739.1 1204.28L730.6 1212.78L722.1 1204.28Z" fill="rgb(255,60,26)" />
<path d="M730.6 1190.16L739.1 1198.66L730.6 1207.16L722.1 1198.66Z" fill="rgb(255,54,23)" />
<path d="M730.6 1184.55L739.1 1193.05L730.6 1201.55L722.1 1193.05Z" fill="rgb(255,48,21)" />
<path d="M730.6 1178.93L739.1 1187.43L730.6 1195.93L722.1 1187.43Z" fill="rgb(255,43,19)" />
<path d="M730.6 1173.31L739.1 1181.81L730.6 1190.31L722.1 1181.81Z" fill="rgb(255,38,17)" />
<path d="M730.6 1167.7L739.1 1176.2L730.6 1184.7L722.1 1176.2Z" fill="rgb(255,33,14)" />
<path d="M730.6 1162.08L739.1 1170.58L730.6 1179.08L722.1 1170.58Z" fill="rgb(255,28,12)" />
<path d="M730.6 1156.47L739.1 1164.97L730.6 1173.47L722.1 1164.97Z" fill="rgb(255,24,10)" />
<path d="M730.6 1150.85L739.1 1159.35L730.6 1167.85L722.1 1159.35Z" fill="rgb(255,19,8)" />
<path d="M730.6 1145.23L739.1 1153.73L730.6 1162.23L722.1 1153.73Z" fill="rgb(255,14,6)" />
<path d="M730.6 1139.62L739.1 1148.12L730.6 1156.62L722.1 1148.12Z" fill="rgb(255,9,4)" />
<path d="M730.6 1134L739.1 1142.5L730.6 1151L722.1 1142.5Z" fill="rgb(255,4,2)" />
<path d="M1277.6 1415.2L1286.4 1424L1277.6 1432.8L1268.8 1424Z" fill="rgb(250,207,145)" />
<path d="M1277.6 1409.68L1286.4 1418.48L1277.6 1427.28L1268.8 1418.48Z" fill="rgb(250,204,142)" />
<path d="M1277.6 1404.16L1286.4 1412.96L1277.6 1421.76L1268.8 1412.96Z" fill="rgb(250,201,138)" />
<path d="M1277.6 1398.64L1286.4 1407.44L1277.6 1416.24L1268.8 1407.44Z" fill="rgb(250,198,134)" />
<path d="M1277.6 1393.12L1286.4 1401.92L1277.6 1410.72L1268.8 1401.92Z" fill="rgb(251,195,131)" />
<path d="M1277.6 1387.6L1286.4 1396.4L1277.6 1405.2L1268.8 1396.4Z" fill="rgb(251,191,127)" />
<path d="M1277.6 1382.08L1286.4 1390.88L1277.6 1399.68L1268.8 1390.88Z" fill="rgb(251,188,124)" />
<path d="M1277.6 1376.57L1286.4 1385.37L1277.6 1394.17L1268.8 1385.37Z" fill="rgb(251,185,120)" />
<path d="M1277.6 1371.05L1286.4 1379.85L1277.6 1388.65L1268.8 1379.85Z" fill="rgb(251,182,116)" />
<path d="M1277.6 1365.53L1286.4 1374.33L1277.6 1383.13L1268.8 1374.33Z" fill="rgb(251,179,113)" />
<path d="M1277.6 1360.01L1286.4 1368.81L1277.6 1377.61L1268.8 1368.81Z" fill="rgb(251,177,110)" />
<path d="M1277.6 1354.49L1286.4 1363.29L1277.6 1372.09L1268.8 1363.29Z" fill="rgb(251,174,108)" />
<path d="M1277.6 1348.97L1286.4 1357.77L1277.6 1366.57L1268.8 1357.77Z" fill="rgb(252,172,105)" />
<path d="M1277.6 1343.45L1286.4 1352.25L1277.6 1361.05L1268.8 1352.25Z" fill="rgb(252,169,102)" />
<path d="M1277.6 1337.93L1286.4 1346.73L1277.6 1355.53L1268.8 1346.73Z" fill="rgb(252,167,100)" />
<path d="M1277.6 1332.41L1286.4 1341.21L1277.6 1350.01L1268.8 1341.21Z" fill="rgb(252,164,97)" />
<path d="M1277.6 1326.89L1286.4 1335.69L1277.6 1344.49L1268.8 1335.69Z" fill="rgb(252,161,94)" />
<path d="M1277.6 1321.37L1286.4 1330.17L1277.6 1338.97L1268.8 1330.17Z" fill="rgb(252,159,92)" />
<path d="M1277.6 1315.85L1286.4 1324.65L1277.6 1333.45L1268.8 1324.65Z" fill="rgb(253,156,89)" />
<path d="M1277.6 1310.33L1286.4 1319.13L1277.6 1327.93L1268.8 1319.13Z" fill="rgb(253,154,86)" />
<path d="M1277.6 1304.82L1286.4 1313.62L1277.6 1322.42L1268.8 1313.62Z" fill="rgb(253,151,83)" />
<path d="M1277.6 1299.3L1286.4 1308.1L1277.6 1316.9L1268.8 1308.1Z" fill="rgb(253,148,81)" />
<path d="M1277.6 1293.78L1286.4 1302.58L1277.6 1311.38L1268.8 1302.58Z" fill="rgb(253,144,77)" />
<path d="M1277.6 1288.26L1286.4 1297.06L1277.6 1305.86L1268.8 1297.06Z" fill="rgb(253,141,74)" />
<path d="M1277.6 1282.74L1286.4 1291.54L1277.6 1300.34L1268.8 1291.54Z" fill="rgb(254,137,71)" />
<path d="M1277.6 1277.22L1286.4 1286.02L1277.6 1294.82L1268.8 1286.02Z" fill="rgb(254,133,68)" />
<path d="M1277.6 1271.7L1286.4 1280.5L1277.6 1289.3L1268.8 1280.5Z" fill="rgb(254,129,64)" />
<path d="M1277.6 1266.18L1286.4 1274.98L1277.6 1283.78L1268.8 1274.98Z" fill="rgb(254,125,61)" />
<path d="M1277.6 1260.66L1286.4 1269.46L1277.6 1278.26L1268.8 1269.46Z" fill="rgb(254,121,58)" />
<path d="M1277.6 1255.14L1286.4 1263.94L1277.6 1272.74L1268.8 1263.94Z" fill="rgb(255,117,55)" />
<path d="M1277.6 1249.62L1286.4 1258.42L1277.6 1267.22L1268.8 1258.42Z" fill="rgb(255,113,51)" />
<path d="M1277.6 1244.1L1286.4 1252.9L1277.6 1261.7L1268.8 1252.9Z" fill="rgb(255,109,48)" />
<path d="M1277.6 1238.58L1286.4 1247.38L1277.6 1256.18L1268.8 1247.38Z" fill="rgb(255,104,45)" />
<path d="M1277.6 1233.07L1286.4 1241.87L1277.6 1250.67L1268.8 1241.87Z" fill="rgb(255,99,43)" />
<path d="M1277.6 1227.55L1286.4 1236.35L1277.6 1245.15L1268.8 1236.35Z" fill="rgb(255,93,40)" />
<path d="M1277.6 1222.03L1286.4 1230.83L1277.6 1239.63L1268.8 1230.83Z" fill="rgb(255,87,38)" />
<path d="M1277.6 1216.51L1286.4 1225.31L1277.6 1234.11L1268.8 1225.31Z" fill="rgb(255,82,35)" />
<path d="M1277.6 1210.99L1286.4 1219.79L1277.6 1228.59L1268.8 1219.79Z" fill="rgb(255,76,33)" />
<path d="M1277.6 1205.47L1286.4 1214.27L1277.6 1223.07L1268.8 1214.27Z" fill="rgb(255,70,30)" />
<path d="M1277.6 1199.95L1286.4 1208.75L1277.6 1217.55L1268.8 1208.75Z" fill="rgb(255,64,28)" />
<path d="M1277.6 1194.43L1286.4 1203.23L1277.6 1212.03L1268.8 1203.23Z" fill="rgb(255,59,25)" />
<path d="M1277.6 1188.91L1286.4 1197.71L1277.6 1206.51L1268.8 1197.71Z" fill="rgb(255,53,23)" />
<path d="M1277.6 1183.39L1286.4 1192.19L1277.6 1200.99L1268.8 1192.19Z" fill="rgb(255,47,21)" />
<path d="M1277.6 1177.87L1286.4 1186.67L1277.6 1195.47L1268.8 1186.67Z" fill="rgb(255,42,18)" />
<path d="M1277.6 1172.35L1286.4 1181.15L1277.6 1189.95L1268.8 1181.15Z" fill="rgb(255,38,16)" />
<path d="M1277.6 1166.83L1286.4 1175.63L1277.6 1184.43L1268.8 1175.63Z" fill="rgb(255,33,14)" />
<path d="M1277.6 1161.32L1286.4 1170.12L1277.6 1178.92L1268.8 1170.12Z" fill="rgb(255,28,12)" />
<path d="M1277.6 1155.8L1286.4 1164.6L1277.6 1173.4L1268.8 1164.6Z" fill="rgb(255,23,10)" />
<path d="M1277.6 1150.28L1286.4 1159.08L1277.6 1167.88L1268.8 1159.08Z" fill="rgb(255,19,8)" />
<path d="M1277.6 1144.76L1286.4 1153.56L1277.6 1162.36L1268.8 1153.56Z" fill="rgb(255,14,6)" />
<path d="M1277.6 1139.24L1286.4 1148.04L1277.6 1156.84L1268.8 1148.04Z" fill="rgb(255,9,4)" />
<path d="M1277.6 1133.72L1286.4 1142.52L1277.6 1151.32L1268.8 1142.52Z" fill="rgb(255,4,2)" />
<path d="M1277.6 1128.2L1286.4 1137L1277.6 1145.8L1268.8 1137Z" fill="rgb(255,0,0)" />
<path d="M182 1346.4L190.3 1354.7L182 1363L173.7 1354.7Z" fill="rgb(253,168,102)" />
<path d="M182 1386.8L190.2 1395L182 1403.2L173.8 1395Z" fill="rgb(251,205,142)" />
<circle cx="182" cy="1436.6" r="11.7" fill="#3c3c3c" stroke="#1c1c1c" stroke-width="4.8"/>
<path d="M182 1436.5H1277" stroke="#000" stroke-width="6.5" stroke-dasharray="39.8 19.83"/>
<circle cx="1277.9" cy="1437.1" r="11" fill="#1d7c1d" stroke="#1c1c1c" stroke-width="4.4"/>
<path d="M1255.3 1436.5H1276" stroke="#000" stroke-width="6.5"/>
<g transform="translate(287.05,1188.8) scale(1.0276,1)" fill="#2a3f5f"><text font-size="40.5"><tspan x="0" y="0" font-style="italic">Pm</tspan><tspan x="60.75" y="0">3</tspan><tspan x="83.27" y="0" font-style="italic">m</tspan></text><rect x="66.55" y="-34.63" width="10.94" height="2.23"/></g>
<path d="M446.8 1165.4L423.96 1169.44" stroke="#0000ff" stroke-width="2.3" fill="none"/>
<path d="M412.3 1171.5L425.93 1163.61L423.23 1169.57L427.81 1174.24Z" fill="#0000ff"/>
<g transform="translate(193.17,1359.3) scale(1.0082,1)" fill="#2a3f5f"><text font-size="40.5"><tspan x="0" y="0" font-style="italic">Fm</tspan><tspan x="58.48" y="0">3</tspan><tspan x="81" y="0" font-style="italic">m</tspan></text><rect x="64.27" y="-34.63" width="10.94" height="2.23"/></g>
<g transform="translate(191.07,1402.7) scale(1.0153,1)" fill="#2a3f5f"><text font-size="40.5"><tspan x="0" y="0" font-style="italic">P</tspan><tspan x="27.01" y="0">6</tspan><tspan x="49.54" y="8.1" font-size="27.14">3</tspan><tspan x="64.63" y="0" font-style="italic">mmc</tspan></text></g>
<g transform="translate(387.77,1427.3) scale(1.0021,1)" fill="#2a3f5f"><text font-size="41.5"><tspan x="0" y="0">Lu</tspan><tspan x="46.16" y="8.3" font-size="27.81">4</tspan><tspan x="61.62" y="0">H</tspan><tspan x="91.6" y="8.3" font-size="27.81">11</tspan><tspan x="120.46" y="0">N</tspan></text></g>
<g transform="translate(545.25,1428.3) scale(1.0069,1)" fill="#2a3f5f"><text font-size="41.5"><tspan x="0" y="0">Lu</tspan><tspan x="46.16" y="8.3" font-size="27.81">3</tspan><tspan x="61.62" y="0">H</tspan><tspan x="91.6" y="8.3" font-size="27.81">8</tspan><tspan x="107.06" y="0">N</tspan></text></g>
<g transform="translate(716.35,1425.1) scale(1.0069,1)" fill="#2a3f5f"><text font-size="41.5"><tspan x="0" y="0">Lu</tspan><tspan x="46.16" y="8.3" font-size="27.81">2</tspan><tspan x="61.62" y="0">H</tspan><tspan x="91.6" y="8.3" font-size="27.81">5</tspan><tspan x="107.06" y="0">N</tspan></text></g>
<g transform="translate(75.2,1494.7) scale(0.9394,1)" fill="#000"><text font-size="46"><tspan x="0" y="0" font-style="italic">P</tspan><tspan x="30.68" y="0">3</tspan><tspan x="56.27" y="0" font-style="italic">c</tspan><tspan x="79.27" y="0">1</tspan></text><rect x="37.26" y="-39.33" width="12.42" height="2.53"/></g>
<g transform="translate(185.29,1493.4) scale(1.0405,1)" fill="#000"><text font-size="45.5"><tspan x="0" y="0">LuH</tspan><tspan x="83.47" y="9.1" font-size="30.49">3</tspan></text></g>
<g transform="translate(1096.69,1489.5) scale(1.0199,1)" fill="#2a3f5f"><text font-size="46"><tspan x="0" y="0" font-style="italic">P</tspan><tspan x="30.68" y="0">2</tspan><tspan x="56.27" y="9.2" font-size="30.82">1</tspan><tspan x="73.41" y="0" font-style="italic">m</tspan></text></g>
<g transform="translate(1220.13,1489.5) scale(1.0466,1)" fill="#2a3f5f"><text font-size="46"><tspan x="0" y="0">LuH</tspan><tspan x="84.39" y="9.2" font-size="30.82">2</tspan><tspan x="101.53" y="0">N</tspan></text></g>
<g transform="translate(621.54,1512.7) scale(1.1228,1)" fill="#000"><text font-size="46"><tspan x="0" y="0">Fraction</tspan></text></g>
<!-- panel c -->
<g transform="translate(161.13,1577.6) scale(1.0037,1)" fill="#000"><text font-size="84"><tspan x="0" y="0" font-weight="bold">c</tspan></text></g>
<circle cx="263.5" cy="1556.5" r="11.8" fill="#3c3c3c" stroke="#1c1c1c" stroke-width="4.6"/>
<g transform="translate(305.86,1566.2) scale(1.0466,1)" fill="#2a3f5f"><text font-size="30.5"><tspan x="0" y="0">Stable</tspan></text></g>
<path d="M435.5 1547.9L444.1 1556.5L435.5 1565.1L426.9 1556.5Z" fill="rgb(252,166,102)" />
<g transform="translate(478.92,1566) scale(1.0660,1)" fill="#2a3f5f"><text font-size="30.5"><tspan x="0" y="0">Above Hull</tspan></text></g>
<path d="M180.4 1576.3V2103.5" stroke="#e0e0e0" stroke-width="1.7"/>
<path d="M404 1576.3V2103.5" stroke="#e0e0e0" stroke-width="1.7"/>
<path d="M627.6 1576.3V2103.5" stroke="#e0e0e0" stroke-width="1.7"/>
<path d="M851.5 1576.3V2103.5" stroke="#e0e0e0" stroke-width="1.7"/>
<path d="M1075 1576.3V2103.5" stroke="#e0e0e0" stroke-width="1.7"/>
<path d="M1298.2 1576.3V2103.5" stroke="#e0e0e0" stroke-width="1.7"/>
<path d="M168 1590.6H1309" stroke="#e0e0e0" stroke-width="1.7"/>
<g transform="translate(85.7,1602.8) scale(1.0481,1)" fill="#2a3f5f"><text font-size="40.5"><tspan x="0" y="0">0.6</tspan></text></g>
<path d="M168 1662.8H1309" stroke="#e0e0e0" stroke-width="1.7"/>
<g transform="translate(85.72,1675) scale(1.0362,1)" fill="#2a3f5f"><text font-size="40.5"><tspan x="0" y="0">0.4</tspan></text></g>
<path d="M168 1734.9H1309" stroke="#e0e0e0" stroke-width="1.7"/>
<g transform="translate(85.69,1747.1) scale(1.0541,1)" fill="#2a3f5f"><text font-size="40.5"><tspan x="0" y="0">0.2</tspan></text></g>
<path d="M168 1807.2H1309" stroke="#e0e0e0" stroke-width="1.7"/>
<g transform="translate(120.36,1819.4) scale(1.0756,1)" fill="#2a3f5f"><text font-size="40.5"><tspan x="0" y="0">0</tspan></text></g>
<path d="M168 1879.5H1309" stroke="#e0e0e0" stroke-width="1.7"/>
<g transform="translate(62.3,1891.7) scale(1.0351,1)" fill="#2a3f5f"><text font-size="40.5"><tspan x="0" y="0">−0.2</tspan></text></g>
<path d="M168 1951.8H1309" stroke="#e0e0e0" stroke-width="1.7"/>
<g transform="translate(62.33,1964) scale(1.0228,1)" fill="#2a3f5f"><text font-size="40.5"><tspan x="0" y="0">−0.4</tspan></text></g>
<path d="M168 2023.7H1309" stroke="#e0e0e0" stroke-width="1.7"/>
<g transform="translate(62.31,2035.9) scale(1.0310,1)" fill="#2a3f5f"><text font-size="40.5"><tspan x="0" y="0">−0.6</tspan></text></g>
<path d="M168 2095.9H1309" stroke="#e0e0e0" stroke-width="1.7"/>
<g transform="translate(62.31,2108.1) scale(1.0310,1)" fill="#2a3f5f"><text font-size="40.5"><tspan x="0" y="0">−0.8</tspan></text></g>
<g transform="translate(168.85,2142.7) scale(1.1428,1)" fill="#2a3f5f"><text font-size="40.5"><tspan x="0" y="0">0</tspan></text></g>
<g transform="translate(1285.02,2138.3) scale(0.9819,1)" fill="#2a3f5f"><text font-size="40.5"><tspan x="0" y="0">1</tspan></text></g>
<g transform="translate(623.69,2157.3) scale(1.1354,1)" fill="#000"><text font-size="46"><tspan x="0" y="0">Fraction</tspan></text></g>
<g transform="translate(49,2052.5) rotate(-90)">
<g transform="translate(-1.85,-10.3) scale(1.1830,1)" fill="#000"><text font-size="52"><tspan x="0" y="0" font-style="italic">H</tspan></text></g>
<g transform="translate(43.71,0.3) scale(1.0523,1)" fill="#000"><text font-size="44"><tspan x="0" y="0">form</tspan></text></g>
<g transform="translate(151.33,0) scale(1.0058,1)" fill="#000"><text font-size="52"><tspan x="0" y="0">(eV/atom)</tspan></text></g>
</g>
<path d="M179.5 1806L924.1 2061.5L1019.2 2031.8L1299 1806.5" stroke="#000" stroke-width="5.8" fill="none" stroke-linejoin="round"/>
<circle cx="179.3" cy="1805.8" r="11.8" fill="#3c3c3c" fill-opacity="0.88" stroke="#1c1c1c" stroke-width="4.6"/>
<circle cx="924.1" cy="2061.5" r="11.8" fill="#3c3c3c" fill-opacity="0.88" stroke="#1c1c1c" stroke-width="4.6"/>
<circle cx="1019.2" cy="2031.8" r="11.8" fill="#3c3c3c" fill-opacity="0.88" stroke="#1c1c1c" stroke-width="4.6"/>
<circle cx="1299" cy="1806.5" r="11.8" fill="#3c3c3c" fill-opacity="0.88" stroke="#1c1c1c" stroke-width="4.6"/>
<path d="M892.4 2031.5L900.9 2040L892.4 2048.5L883.9 2040Z" fill="rgb(250,211,149)" />
<path d="M892.4 2026.41L900.9 2034.91L892.4 2043.41L883.9 2034.91Z" fill="rgb(250,207,145)" />
<path d="M892.4 2021.32L900.9 2029.82L892.4 2038.32L883.9 2029.82Z" fill="rgb(250,204,141)" />
<path d="M892.4 2016.23L900.9 2024.73L892.4 2033.23L883.9 2024.73Z" fill="rgb(250,200,137)" />
<path d="M892.4 2011.14L900.9 2019.64L892.4 2028.14L883.9 2019.64Z" fill="rgb(250,197,134)" />
<path d="M892.4 2006.05L900.9 2014.55L892.4 2023.05L883.9 2014.55Z" fill="rgb(251,194,130)" />
<path d="M892.4 2000.96L900.9 2009.46L892.4 2017.96L883.9 2009.46Z" fill="rgb(251,190,126)" />
<path d="M892.4 1995.87L900.9 2004.37L892.4 2012.87L883.9 2004.37Z" fill="rgb(251,187,122)" />
<path d="M892.4 1990.78L900.9 1999.28L892.4 2007.78L883.9 1999.28Z" fill="rgb(251,183,118)" />
<path d="M892.4 1985.69L900.9 1994.19L892.4 2002.69L883.9 1994.19Z" fill="rgb(251,180,114)" />
<path d="M892.4 1980.6L900.9 1989.1L892.4 1997.6L883.9 1989.1Z" fill="rgb(251,177,111)" />
<path d="M892.4 1975.51L900.9 1984.01L892.4 1992.51L883.9 1984.01Z" fill="rgb(251,175,108)" />
<path d="M892.4 1970.42L900.9 1978.92L892.4 1987.42L883.9 1978.92Z" fill="rgb(252,172,105)" />
<path d="M892.4 1965.33L900.9 1973.83L892.4 1982.33L883.9 1973.83Z" fill="rgb(252,169,102)" />
<path d="M892.4 1960.24L900.9 1968.74L892.4 1977.24L883.9 1968.74Z" fill="rgb(252,166,99)" />
<path d="M892.4 1955.15L900.9 1963.65L892.4 1972.15L883.9 1963.65Z" fill="rgb(252,164,97)" />
<path d="M892.4 1950.06L900.9 1958.56L892.4 1967.06L883.9 1958.56Z" fill="rgb(252,161,94)" />
<path d="M892.4 1944.97L900.9 1953.47L892.4 1961.97L883.9 1953.47Z" fill="rgb(252,158,91)" />
<path d="M892.4 1939.88L900.9 1948.38L892.4 1956.88L883.9 1948.38Z" fill="rgb(253,155,88)" />
<path d="M892.4 1934.79L900.9 1943.29L892.4 1951.79L883.9 1943.29Z" fill="rgb(253,153,85)" />
<path d="M892.4 1929.71L900.9 1938.21L892.4 1946.71L883.9 1938.21Z" fill="rgb(253,150,82)" />
<path d="M892.4 1924.62L900.9 1933.12L892.4 1941.62L883.9 1933.12Z" fill="rgb(253,146,78)" />
<path d="M892.4 1919.53L900.9 1928.03L892.4 1936.53L883.9 1928.03Z" fill="rgb(253,142,75)" />
<path d="M892.4 1914.44L900.9 1922.94L892.4 1931.44L883.9 1922.94Z" fill="rgb(254,137,72)" />
<path d="M892.4 1909.35L900.9 1917.85L892.4 1926.35L883.9 1917.85Z" fill="rgb(254,133,68)" />
<path d="M892.4 1904.26L900.9 1912.76L892.4 1921.26L883.9 1912.76Z" fill="rgb(254,129,64)" />
<path d="M892.4 1899.17L900.9 1907.67L892.4 1916.17L883.9 1907.67Z" fill="rgb(254,125,61)" />
<path d="M892.4 1894.08L900.9 1902.58L892.4 1911.08L883.9 1902.58Z" fill="rgb(254,121,58)" />
<path d="M892.4 1888.99L900.9 1897.49L892.4 1905.99L883.9 1897.49Z" fill="rgb(255,116,54)" />
<path d="M892.4 1883.9L900.9 1892.4L892.4 1900.9L883.9 1892.4Z" fill="rgb(255,112,50)" />
<path d="M892.4 1878.81L900.9 1887.31L892.4 1895.81L883.9 1887.31Z" fill="rgb(255,108,47)" />
<path d="M892.4 1873.72L900.9 1882.22L892.4 1890.72L883.9 1882.22Z" fill="rgb(255,102,44)" />
<path d="M892.4 1868.63L900.9 1877.13L892.4 1885.63L883.9 1877.13Z" fill="rgb(255,96,42)" />
<path d="M892.4 1863.54L900.9 1872.04L892.4 1880.54L883.9 1872.04Z" fill="rgb(255,89,39)" />
<path d="M892.4 1858.45L900.9 1866.95L892.4 1875.45L883.9 1866.95Z" fill="rgb(255,83,36)" />
<path d="M892.4 1853.36L900.9 1861.86L892.4 1870.36L883.9 1861.86Z" fill="rgb(255,77,34)" />
<path d="M892.4 1848.27L900.9 1856.77L892.4 1865.27L883.9 1856.77Z" fill="rgb(255,71,31)" />
<path d="M892.4 1843.18L900.9 1851.68L892.4 1860.18L883.9 1851.68Z" fill="rgb(255,65,28)" />
<path d="M892.4 1838.09L900.9 1846.59L892.4 1855.09L883.9 1846.59Z" fill="rgb(255,58,25)" />
<path d="M892.4 1833L900.9 1841.5L892.4 1850L883.9 1841.5Z" fill="rgb(255,52,23)" />
<path d="M954.4 2041L962.9 2049.5L954.4 2058L945.9 2049.5Z" fill="rgb(250,211,149)" />
<path d="M954.4 2035.89L962.9 2044.39L954.4 2052.89L945.9 2044.39Z" fill="rgb(250,208,146)" />
<path d="M954.4 2030.77L962.9 2039.27L954.4 2047.77L945.9 2039.27Z" fill="rgb(250,205,142)" />
<path d="M954.4 2025.66L962.9 2034.16L954.4 2042.66L945.9 2034.16Z" fill="rgb(250,202,139)" />
<path d="M954.4 2020.55L962.9 2029.05L954.4 2037.55L945.9 2029.05Z" fill="rgb(250,199,135)" />
<path d="M954.4 2015.44L962.9 2023.94L954.4 2032.44L945.9 2023.94Z" fill="rgb(251,195,132)" />
<path d="M954.4 2010.32L962.9 2018.82L954.4 2027.32L945.9 2018.82Z" fill="rgb(251,192,128)" />
<path d="M954.4 2005.21L962.9 2013.71L954.4 2022.21L945.9 2013.71Z" fill="rgb(251,189,125)" />
<path d="M954.4 2000.1L962.9 2008.6L954.4 2017.1L945.9 2008.6Z" fill="rgb(251,186,121)" />
<path d="M954.4 1994.98L962.9 2003.48L954.4 2011.98L945.9 2003.48Z" fill="rgb(251,183,118)" />
<path d="M954.4 1989.87L962.9 1998.37L954.4 2006.87L945.9 1998.37Z" fill="rgb(251,180,114)" />
<path d="M954.4 1984.76L962.9 1993.26L954.4 2001.76L945.9 1993.26Z" fill="rgb(251,178,112)" />
<path d="M954.4 1979.65L962.9 1988.15L954.4 1996.65L945.9 1988.15Z" fill="rgb(251,175,109)" />
<path d="M954.4 1974.53L962.9 1983.03L954.4 1991.53L945.9 1983.03Z" fill="rgb(251,173,107)" />
<path d="M954.4 1969.42L962.9 1977.92L954.4 1986.42L945.9 1977.92Z" fill="rgb(252,171,104)" />
<path d="M954.4 1964.31L962.9 1972.81L954.4 1981.31L945.9 1972.81Z" fill="rgb(252,168,101)" />
<path d="M954.4 1959.19L962.9 1967.69L954.4 1976.19L945.9 1967.69Z" fill="rgb(252,166,99)" />
<path d="M954.4 1954.08L962.9 1962.58L954.4 1971.08L945.9 1962.58Z" fill="rgb(252,163,96)" />
<path d="M954.4 1948.97L962.9 1957.47L954.4 1965.97L945.9 1957.47Z" fill="rgb(252,161,94)" />
<path d="M954.4 1943.85L962.9 1952.35L954.4 1960.85L945.9 1952.35Z" fill="rgb(252,159,91)" />
<path d="M954.4 1938.74L962.9 1947.24L954.4 1955.74L945.9 1947.24Z" fill="rgb(253,156,88)" />
<path d="M954.4 1933.63L962.9 1942.13L954.4 1950.63L945.9 1942.13Z" fill="rgb(253,154,86)" />
<path d="M954.4 1928.52L962.9 1937.02L954.4 1945.52L945.9 1937.02Z" fill="rgb(253,151,83)" />
<path d="M954.4 1923.4L962.9 1931.9L954.4 1940.4L945.9 1931.9Z" fill="rgb(253,148,80)" />
<path d="M954.4 1918.29L962.9 1926.79L954.4 1935.29L945.9 1926.79Z" fill="rgb(253,144,77)" />
<path d="M954.4 1913.18L962.9 1921.68L954.4 1930.18L945.9 1921.68Z" fill="rgb(253,141,74)" />
<path d="M954.4 1908.06L962.9 1916.56L954.4 1925.06L945.9 1916.56Z" fill="rgb(254,137,71)" />
<path d="M954.4 1902.95L962.9 1911.45L954.4 1919.95L945.9 1911.45Z" fill="rgb(254,133,68)" />
<path d="M954.4 1897.84L962.9 1906.34L954.4 1914.84L945.9 1906.34Z" fill="rgb(254,130,65)" />
<path d="M954.4 1892.73L962.9 1901.23L954.4 1909.73L945.9 1901.23Z" fill="rgb(254,126,62)" />
<path d="M954.4 1887.61L962.9 1896.11L954.4 1904.61L945.9 1896.11Z" fill="rgb(254,122,59)" />
<path d="M954.4 1882.5L962.9 1891L954.4 1899.5L945.9 1891Z" fill="rgb(255,118,56)" />
<path d="M954.4 1864.1L962.9 1872.6L954.4 1881.1L945.9 1872.6Z" fill="rgb(255,103,45)" />
<path d="M954.4 1857.2L962.9 1865.7L954.4 1874.2L945.9 1865.7Z" fill="rgb(255,96,42)" />
<path d="M954.4 1844.1L962.9 1852.6L954.4 1861.1L945.9 1852.6Z" fill="rgb(255,82,36)" />
<path d="M954.4 1828.5L962.9 1837L954.4 1845.5L945.9 1837Z" fill="rgb(255,65,28)" />
<path d="M954.4 1823.15L962.9 1831.65L954.4 1840.15L945.9 1831.65Z" fill="rgb(255,59,26)" />
<path d="M954.4 1817.81L962.9 1826.31L954.4 1834.81L945.9 1826.31Z" fill="rgb(255,54,23)" />
<path d="M954.4 1812.46L962.9 1820.96L954.4 1829.46L945.9 1820.96Z" fill="rgb(255,48,21)" />
<path d="M954.4 1807.12L962.9 1815.62L954.4 1824.12L945.9 1815.62Z" fill="rgb(255,43,19)" />
<path d="M954.4 1801.77L962.9 1810.27L954.4 1818.77L945.9 1810.27Z" fill="rgb(255,38,17)" />
<path d="M954.4 1796.42L962.9 1804.92L954.4 1813.42L945.9 1804.92Z" fill="rgb(255,33,14)" />
<path d="M954.4 1791.08L962.9 1799.58L954.4 1808.08L945.9 1799.58Z" fill="rgb(255,28,12)" />
<path d="M954.4 1785.73L962.9 1794.23L954.4 1802.73L945.9 1794.23Z" fill="rgb(255,24,10)" />
<path d="M954.4 1780.38L962.9 1788.88L954.4 1797.38L945.9 1788.88Z" fill="rgb(255,19,8)" />
<path d="M954.4 1775.04L962.9 1783.54L954.4 1792.04L945.9 1783.54Z" fill="rgb(255,14,6)" />
<path d="M954.4 1769.69L962.9 1778.19L954.4 1786.69L945.9 1778.19Z" fill="rgb(255,9,4)" />
<path d="M954.4 1764.35L962.9 1772.85L954.4 1781.35L945.9 1772.85Z" fill="rgb(255,5,2)" />
<path d="M954.4 1759L962.9 1767.5L954.4 1776L945.9 1767.5Z" fill="rgb(255,0,0)" />
<path d="M1019.2 1994.2L1027.5 2002.5L1019.2 2010.8L1010.9 2002.5Z" fill="rgb(250,208,152)" />
<path d="M999.9 2011.5L1008.2 2019.8L999.9 2028.1L991.6 2019.8Z" fill="rgb(250,208,152)" />
<path d="M978.5 2029L986.8 2037.3L978.5 2045.6L970.2 2037.3Z" fill="rgb(250,208,152)" />
<path d="M1196.7 1601.7L1205 1610L1196.7 1618.3L1188.4 1610Z" fill="#ff0500" />
<path d="M1138.8 1696.9L1147.1 1705.2L1138.8 1713.5L1130.5 1705.2Z" fill="#ff3016" />
<path d="M1019.2 2015.3L1027.5 2023.6L1019.2 2031.9L1010.9 2023.6Z" fill="rgb(250,208,152)" />
<path d="M997.5 2008.7L989.02 1887.21" stroke="#0000ff" stroke-width="2.3" fill="none"/>
<path d="M988.2 1875.4L994.62 1889.79L988.97 1886.47L983.84 1890.54Z" fill="#0000ff"/>
<path d="M1016.4 1996L1031.07 1944.29" stroke="#0000ff" stroke-width="2.3" fill="none"/>
<path d="M1034.3 1932.9L1035.46 1948.61L1031.27 1943.58L1025.07 1945.66Z" fill="#0000ff"/>
<path d="M1021.6 2018L1108.3 1979.14" stroke="#0000ff" stroke-width="2.3" fill="none"/>
<path d="M1119.1 1974.3L1107.8 1985.28L1108.97 1978.84L1103.39 1975.43Z" fill="#0000ff"/>
<path d="M987.1 2038L1009.48 2069.09" stroke="#0000ff" stroke-width="2.3" fill="none"/>
<path d="M1016.4 2078.7L1003.37 2069.84L1009.91 2069.69L1012.14 2063.53Z" fill="#0000ff"/>
<g transform="translate(183.07,1788.9) scale(1.1158,1)" fill="#000"><text font-size="46"><tspan x="0" y="0">Lu</tspan></text></g>
<g transform="translate(1272.53,1781.3) scale(1.0794,1)" fill="#000"><text font-size="45.7"><tspan x="0" y="0">H</tspan></text></g>
<g transform="translate(864.25,2113.2) scale(1.0514,1)" fill="#000"><text font-size="45.5"><tspan x="0" y="0">LuH</tspan><tspan x="83.47" y="9.1" font-size="30.49">2</tspan></text></g>
<g transform="translate(1040.07,2058) scale(1.0478,1)" fill="#000"><text font-size="45.5"><tspan x="0" y="0">LuH</tspan><tspan x="83.47" y="9.1" font-size="30.49">3</tspan></text></g>
<g transform="translate(993.03,2108.7) scale(0.9855,1)" fill="#2a3f5f"><text font-size="41.5"><tspan x="0" y="0">Lu</tspan><tspan x="46.16" y="8.3" font-size="27.81">2</tspan><tspan x="61.62" y="0">H</tspan><tspan x="91.6" y="8.3" font-size="27.81">5</tspan></text></g>
<g transform="translate(899.26,1743.4) scale(1.0034,1)" fill="#2a3f5f"><text font-size="41.5"><tspan x="0" y="0">Lu</tspan><tspan x="46.16" y="8.3" font-size="27.81">4</tspan><tspan x="61.62" y="0">H</tspan><tspan x="91.6" y="8.3" font-size="27.81">9</tspan></text></g>
<g transform="translate(833.09,1814.7) scale(0.9950,1)" fill="#2a3f5f"><text font-size="41.5"><tspan x="0" y="0">Lu</tspan><tspan x="46.16" y="8.3" font-size="27.81">4</tspan><tspan x="61.62" y="0">H</tspan><tspan x="91.6" y="8.3" font-size="27.81">7</tspan></text></g>
<g transform="translate(969.96,1871.9) scale(0.9741,1)" fill="#2a3f5f"><text font-size="41.5"><tspan x="0" y="0">Lu</tspan><tspan x="46.16" y="8.3" font-size="27.81">4</tspan><tspan x="61.62" y="0">H</tspan><tspan x="91.6" y="8.3" font-size="27.81">11</tspan></text></g>
<g transform="translate(1011.77,1935.3) scale(1.0245,1)" fill="#2a3f5f"><text font-size="40"><tspan x="0" y="0" font-style="italic">Fm</tspan><tspan x="57.75" y="0">3</tspan><tspan x="80" y="0" font-style="italic">m</tspan></text><rect x="63.48" y="-34.2" width="10.8" height="2.2"/></g>
<g transform="translate(1118.57,1981.2) scale(1.0233,1)" fill="#2a3f5f"><text font-size="40"><tspan x="0" y="0" font-style="italic">P</tspan><tspan x="26.68" y="0">6</tspan><tspan x="48.93" y="8" font-size="26.8">3</tspan><tspan x="63.83" y="0" font-style="italic">mmc</tspan></text></g>
<g transform="translate(1158.25,1645.2) scale(1.0381,1)" fill="#2a3f5f"><text font-size="40"><tspan x="0" y="0" font-style="italic">Fm</tspan><tspan x="57.75" y="0">3</tspan><tspan x="80" y="0" font-style="italic">m</tspan></text><rect x="63.48" y="-34.2" width="10.8" height="2.2"/></g>
<g transform="translate(1162.27,1679.9) scale(1.0027,1)" fill="#2a3f5f"><text font-size="41.5"><tspan x="0" y="0">LuH</tspan><tspan x="76.13" y="8.3" font-size="27.81">10</tspan></text></g>
<g transform="translate(1096.77,1757.2) scale(1.0168,1)" fill="#2a3f5f"><text font-size="40"><tspan x="0" y="0" font-style="italic">Im</tspan><tspan x="44.43" y="0">3</tspan><tspan x="66.68" y="0" font-style="italic">m</tspan></text><rect x="50.16" y="-34.2" width="10.8" height="2.2"/></g>
<g transform="translate(1099.17,1794.4) scale(1.0016,1)" fill="#2a3f5f"><text font-size="41.5"><tspan x="0" y="0">LuH</tspan><tspan x="76.13" y="8.3" font-size="27.81">6</tspan></text></g>
</svg>
</body></html>
